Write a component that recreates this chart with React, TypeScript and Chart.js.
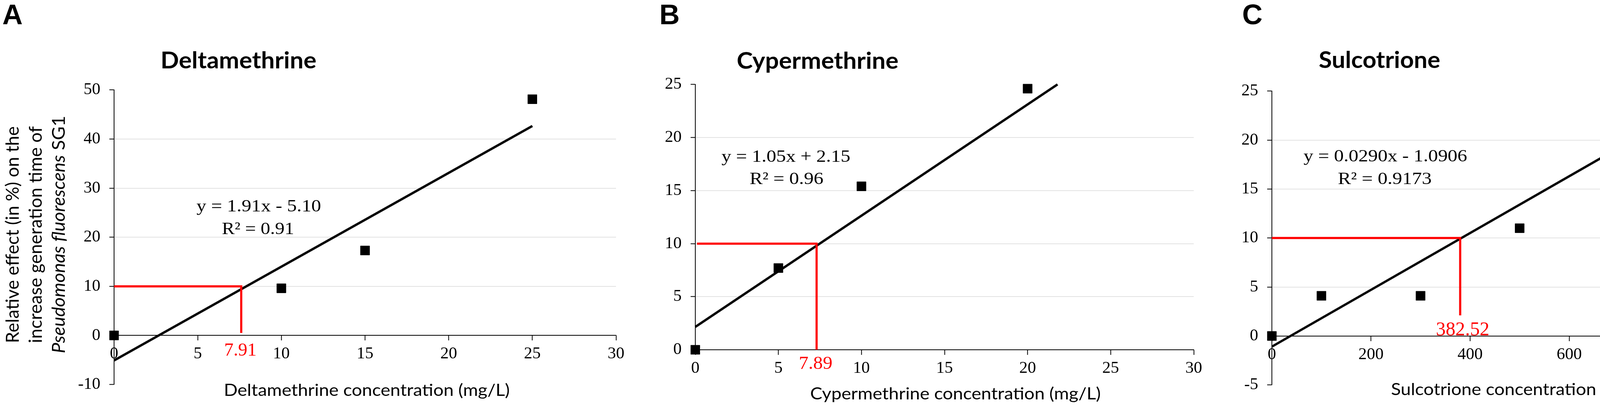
import React, { useEffect, useRef } from "react";
import { Chart, registerables } from "chart.js";

Chart.register(...registerables);

// ---------------- Panel A : Deltamethrine ----------------
const deltaConc = [0, 10, 15, 25];
const deltaEffect = [0, 9.6, 17.3, 48.1];
const deltaTrendX = [0, 25];
const deltaTrendY = [-5.1, 42.65];
const deltaGuideX = [0, 7.6, 7.6];
const deltaGuideY = [10, 10, 0.5];
const deltaXTicks = [0, 5, 10, 15, 20, 25, 30];
const deltaYTicks = [-10, 0, 10, 20, 30, 40, 50];

// ---------------- Panel B : Cypermethrine ----------------
const cyperConc = [0, 5, 10, 20];
const cyperEffect = [0, 7.7, 15.4, 24.6];
const cyperTrendX = [0, 21.8];
const cyperTrendY = [2.15, 25];
const cyperGuideX = [0.1, 7.3, 7.3];
const cyperGuideY = [10, 10, 0];
const cyperXTicks = [0, 5, 10, 15, 20, 25, 30];
const cyperYTicks = [0, 5, 10, 15, 20, 25];

// ---------------- Panel C : Sulcotrione ----------------
const sulcoConc = [0, 100, 300, 500, 800];
const sulcoEffect = [0, 4.1, 4.1, 11.0, 24.7];
const sulcoTrendX = [0, 800];
const sulcoTrendY = [-1.09, 22.1];
const sulcoGuideX = [0, 380, 380];
const sulcoGuideY = [10, 10, 2.1];
const sulcoXTicks = [0, 200, 400, 600, 800, 1000];
const sulcoYTicks = [-5, 0, 5, 10, 15, 20, 25];

const PAGE_H = 1044;
const SERIF = '"Liberation Serif", "Times New Roman", serif';
const SANS = 'Lato, "Open Sans", sans-serif';
const ARIAL = '"Liberation Sans", Arial, sans-serif';
const RED = "#ff0000";
const GRID = "#d9d9d9";

const pts = (xs: number[], ys: number[]) => xs.map((x, i) => ({ x, y: ys[i] }));

type PanelProps = {
  canvasLeft: number;
  canvasWidth: number;
  plot: { left: number; right: number; top: number; bottom: number };
  conc: number[];
  effect: number[];
  trendX: number[];
  trendY: number[];
  guideX: number[];
  guideY: number[];
  xTicks: number[];
  yTicks: number[];
};

function Panel(p: PanelProps) {
  const ref = useRef<HTMLCanvasElement | null>(null);
  useEffect(() => {
    const canvas = ref.current!;
    const yMin = p.yTicks[0];
    const yMax = p.yTicks[p.yTicks.length - 1];
    const xMin = p.xTicks[0];
    const xMax = p.xTicks[p.xTicks.length - 1];
    const yWidth = p.plot.left - p.canvasLeft;
    const chart = new Chart(canvas, {
      type: "scatter",
      data: {
        datasets: [
          {
            type: "line",
            data: pts(p.guideX, p.guideY),
            borderColor: RED,
            borderWidth: 5.5,
            pointRadius: 0,
            fill: false,
            tension: 0,
            clip: false as any,
          } as any,
          {
            type: "line",
            data: pts(p.trendX, p.trendY),
            borderColor: "#000",
            borderWidth: 6,
            pointRadius: 0,
            fill: false,
            tension: 0,
            clip: false as any,
          } as any,
          {
            type: "scatter",
            data: pts(p.conc, p.effect),
            pointStyle: "rect",
            pointRadius: 16.5,
            pointBackgroundColor: "#000",
            pointBorderColor: "#000",
            pointBorderWidth: 1,
            clip: false as any,
          } as any,
        ],
      },
      options: {
        animation: false,
        responsive: false,
        devicePixelRatio: 1,
        events: [],
        layout: {
          padding: {
            left: 0,
            top: p.plot.top,
            right: p.canvasLeft + p.canvasWidth - p.plot.right,
            bottom: PAGE_H - p.plot.bottom,
          },
        },
        plugins: {
          legend: { display: false },
          tooltip: { enabled: false },
          title: { display: false },
        },
        scales: {
          x: {
            type: "linear",
            position: { y: 0 } as any,
            min: xMin,
            max: xMax,
            afterBuildTicks: (s: any) => {
              s.ticks = p.xTicks.map((v) => ({ value: v }));
            },
            afterFit: (s: any) => {
              s.height = 0;
            },
            grid: {
              drawOnChartArea: false,
              drawTicks: true,
              tickLength: 12,
              tickColor: "#000",
              tickWidth: 2,
            },
            border: { display: true, color: "#000", width: 2 },
            ticks: {
              autoSkip: false,
              maxRotation: 0,
              padding: 10,
              color: "#000",
              font: { family: SERIF, size: 43 },
            },
          } as any,
          y: {
            type: "linear",
            position: "left",
            min: yMin,
            max: yMax,
            afterBuildTicks: (s: any) => {
              s.ticks = p.yTicks.map((v) => ({ value: v }));
            },
            afterFit: (s: any) => {
              s.width = yWidth;
            },
            grid: {
              drawOnChartArea: true,
              drawTicks: true,
              tickLength: 12,
              tickColor: "#000",
              tickWidth: 2,
              lineWidth: 1.5,
              color: (ctx: any) => {
                const v = ctx.tick ? ctx.tick.value : NaN;
                return v > yMin && v < yMax && v !== 0 ? GRID : "rgba(0,0,0,0)";
              },
            },
            border: { display: true, color: "#000", width: 2 },
            ticks: {
              autoSkip: false,
              padding: 23,
              color: "#000",
              font: { family: SERIF, size: 43 },
            },
          } as any,
        },
      },
    });
    return () => chart.destroy();
  }, []);
  return (
    <canvas
      ref={ref}
      width={p.canvasWidth}
      height={PAGE_H}
      style={{
        position: "absolute",
        left: p.canvasLeft,
        top: 0,
        width: p.canvasWidth,
        height: PAGE_H,
      }}
    />
  );
}

// ---------------- text helpers ----------------
const mctx = document.createElement("canvas").getContext("2d")!;
type Part = { t: string; italic?: boolean };
const fontStr = (size: number, family: string, weight: string | number, italic?: boolean) =>
  `${italic ? "italic " : ""}${weight} ${size}px ${family}`;

function measure(parts: Part[], size: number, family: string, weight: string | number) {
  let w = 0;
  let asc = 0;
  let desc = 0;
  for (const pt of parts) {
    mctx.font = fontStr(size, family, weight, pt.italic);
    const m = mctx.measureText(pt.t);
    w += m.width;
    asc = Math.max(asc, (m as any).fontBoundingBoxAscent ?? size * 0.9);
    desc = Math.max(desc, (m as any).fontBoundingBoxDescent ?? size * 0.22);
  }
  return { w, asc, desc };
}

type LabelProps = {
  parts: Part[];
  x: number;
  baseline: number;
  width?: number;
  size: number;
  family: string;
  weight?: string | number;
  color?: string;
  rotate?: boolean; // rotated -90deg: x = baseline x, baseline = center y
};

function Label(props: LabelProps) {
  const { parts, size, family } = props;
  const weight = props.weight ?? "normal";
  const m = measure(parts, size, family, weight);
  const k = props.width ? props.width / m.w : 1;
  const off = (size - (m.asc + m.desc)) / 2 + m.asc;
  const common: React.CSSProperties = {
    position: "absolute",
    margin: 0,
    padding: 0,
    whiteSpace: "pre",
    fontFamily: family,
    fontSize: size,
    fontWeight: weight as any,
    lineHeight: `${size}px`,
    color: props.color ?? "#000",
    transformOrigin: "0 0",
  };
  let style: React.CSSProperties;
  if (props.rotate) {
    style = {
      ...common,
      left: props.x - off,
      top: props.baseline + (m.w * k) / 2,
      transform: `rotate(-90deg) scaleX(${k})`,
    };
  } else {
    style = {
      ...common,
      left: props.x,
      top: props.baseline - off,
      transform: `scaleX(${k})`,
    };
  }
  return (
    <div style={style}>
      {parts.map((pt, i) => (
        <span key={i} style={{ fontStyle: pt.italic ? "italic" : "normal" }}>
          {pt.t}
        </span>
      ))}
    </div>
  );
}

const T = (s: string): Part[] => [{ t: s }];

export default function App() {
  return (
    <div
      style={{
        position: "absolute",
        left: 0,
        top: 0,
        width: 4583,
        height: PAGE_H,
        background: "#fff",
        overflow: "hidden",
      }}
    >
      <Panel
        canvasLeft={0}
        canvasWidth={1640}
        plot={{ left: 292, right: 1577, top: 230, bottom: 984 }}
        conc={deltaConc}
        effect={deltaEffect}
        trendX={deltaTrendX}
        trendY={deltaTrendY}
        guideX={deltaGuideX}
        guideY={deltaGuideY}
        xTicks={deltaXTicks}
        yTicks={deltaYTicks}
      />
      <Panel
        canvasLeft={1640}
        canvasWidth={1480}
        plot={{ left: 1780, right: 3056, top: 216, bottom: 895 }}
        conc={cyperConc}
        effect={cyperEffect}
        trendX={cyperTrendX}
        trendY={cyperTrendY}
        guideX={cyperGuideX}
        guideY={cyperGuideY}
        xTicks={cyperXTicks}
        yTicks={cyperYTicks}
      />
      <Panel
        canvasLeft={3120}
        canvasWidth={1463}
        plot={{ left: 3256, right: 4532, top: 233, bottom: 985 }}
        conc={sulcoConc}
        effect={sulcoEffect}
        trendX={sulcoTrendX}
        trendY={sulcoTrendY}
        guideX={sulcoGuideX}
        guideY={sulcoGuideY}
        xTicks={sulcoXTicks}
        yTicks={sulcoYTicks}
      />

      {/* panel letters */}
      <Label parts={T("A")} x={6} baseline={62} size={72} family={ARIAL} weight="bold" />
      <Label parts={T("B")} x={1688} baseline={62} size={72} family={ARIAL} weight="bold" />
      <Label parts={T("C")} x={3180} baseline={62} size={72} family={ARIAL} weight="bold" />

      {/* titles */}
      <Label parts={T("Deltamethrine")} x={411} baseline={175} width={399} size={60} family={SANS} weight="bold" />
      <Label parts={T("Cypermethrine")} x={1886} baseline={176} width={414} size={60} family={SANS} weight="bold" />
      <Label parts={T("Sulcotrione")} x={3376} baseline={174} width={311} size={60} family={SANS} weight="bold" />

      {/* y axis title (panel A) */}
      <Label parts={T("Relative effect (in %) on the")} x={48} baseline={600} width={555} size={46} family={SANS} rotate />
      <Label parts={T("increase generation time of")} x={107} baseline={600} width={555} size={46} family={SANS} rotate />
      <Label
        parts={[{ t: "Pseudomonas fluorescens", italic: true }, { t: " SG1" }]}
        x={166}
        baseline={600}
        width={608}
        size={46}
        family={SANS}
        rotate
      />

      {/* x axis titles */}
      <Label parts={T("Deltamethrine concentration (mg/L)")} x={573} baseline={1013} width={732} size={43} family={SANS} />
      <Label parts={T("Cypermethrine concentration (mg/L)")} x={2074} baseline={1022} width={744} size={43} family={SANS} />
      <Label parts={T("Sulcotrione concentration (mg/L)")} x={3561} baseline={1011} width={669} size={43} family={SANS} />

      {/* regression equations */}
      <Label parts={T("y = 1.91x - 5.10")} x={503} baseline={541} width={319} size={44} family={SERIF} />
      <Label parts={T("R² = 0.91")} x={568} baseline={599} width={185} size={44} family={SERIF} />
      <Label parts={T("y = 1.05x + 2.15")} x={1847} baseline={414} width={330} size={44} family={SERIF} />
      <Label parts={T("R² = 0.96")} x={1919} baseline={471} width={189} size={44} family={SERIF} />
      <Label parts={T("y = 0.0290x - 1.0906")} x={3337} baseline={413} width={419} size={44} family={SERIF} />
      <Label parts={T("R² = 0.9173")} x={3425} baseline={471} width={240} size={44} family={SERIF} />

      {/* red EC10 values */}
      <Label parts={T("7.91")} x={574} baseline={910} width={83} size={47} family={SERIF} color={RED} />
      <Label parts={T("7.89")} x={2045} baseline={944} width={86} size={47} family={SERIF} color={RED} />
      <Label parts={T("382.52")} x={3676} baseline={858} width={137} size={50} family={SERIF} color={RED} />
    </div>
  );
}
